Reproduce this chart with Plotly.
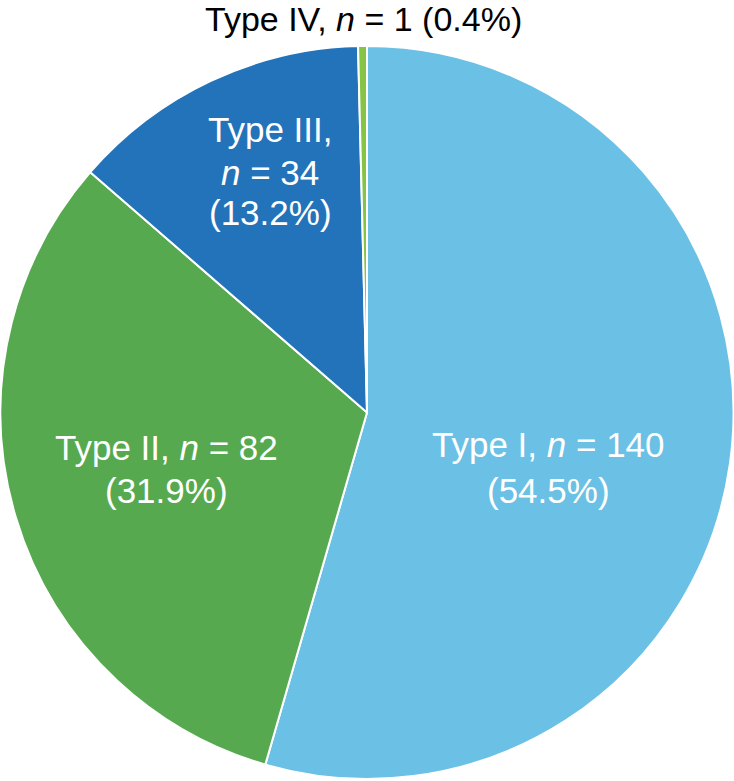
import plotly.graph_objects as go

categories = ["Type I", "Type II", "Type III", "Type IV"]
counts = [140, 82, 34, 1]
percents = ["54.5%", "31.9%", "13.2%", "0.4%"]
colors = ["#6BC0E5", "#57A94F", "#2373BA", "#86C446"]

W, H = 734, 781

fig = go.Figure(go.Pie(
    labels=categories,
    values=counts,
    sort=False,
    direction="clockwise",
    rotation=0,
    marker=dict(colors=colors, line=dict(color="white", width=2)),
    textinfo="none",
    hoverinfo="label+value+percent",
    domain=dict(x=[0, 1], y=[2 / H, 735 / H]),
    showlegend=False,
))

FONT = "Liberation Sans, Arial, sans-serif"

def lab(i):
    return f"{categories[i]}, <i>n</i> = {counts[i]}"

# (text, x_px, y_px, color)
labels = [
    (lab(3) + f" ({percents[3]})", 363, 19, "black"),
    (f"{categories[2]},", 270, 130, "white"),
    (f"<i>n</i> = {counts[2]}", 270, 172, "white"),
    (f"({percents[2]})", 270, 213, "white"),
    (lab(1), 166, 447, "white"),
    (f"({percents[1]})", 166, 490, "white"),
    (lab(0), 548, 445, "white"),
    (f"({percents[0]})", 548, 490, "white"),
]

for t, xp, yp, c in labels:
    fig.add_annotation(
        text=t, x=xp / W, y=1 - yp / H, xref="paper", yref="paper",
        showarrow=False, xanchor="center", yanchor="middle",
        font=dict(family=FONT, size=35 if c == "white" else 34, color=c),
    )

fig.update_layout(
    width=W, height=H,
    margin=dict(l=0, r=0, t=0, b=0),
    paper_bgcolor="white",
    plot_bgcolor="white",
)

fig.write_html(
    "out.html",
    config={"displayModeBar": False},
    post_script="document.body.style.margin='0';document.body.style.overflow='hidden';",
)
